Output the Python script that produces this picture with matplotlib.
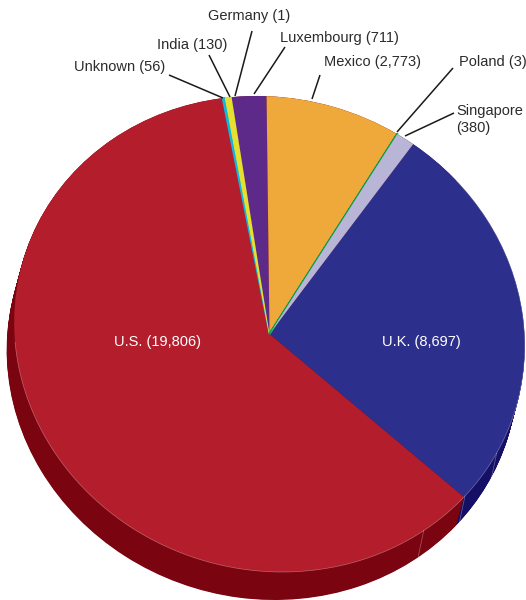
import matplotlib
matplotlib.use("Agg")
import matplotlib.pyplot as plt
import numpy as np
from matplotlib.transforms import Affine2D

# clockwise on screen, starting with the U.K.
countries = ['U.K.', 'U.S.', 'Unknown', 'India', 'Germany', 'Luxembourg', 'Mexico', 'Poland', 'Singapore']
counts = [8697, 19806, 56, 130, 1, 711, 2773, 3, 380]
colors = ['#2C2F8B', '#B41D2B', '#12B5E0', '#E8E02E', '#5E2A8A', '#5E2A8A', '#EFA83A', '#0E9A4A', '#B8B5D6']
side_colors = ['#150F66', '#7A0410', '#7A0410', '#7A0410', '#7A0410', '#7A0410', '#7A0410', '#7A0410', '#7A0410']

plt.rcParams['font.family'] = ['Liberation Sans', 'DejaVu Sans']

# ellipse of the top face, in image pixels
cx, cy = 269.5, 334
a, b = 255, 238
tilt = 0.05
depth_x, depth_y = -7.5, 28
start = -52.9


def face_transform(dx=0, dy=0):
    return Affine2D.from_values(a, 0, a * tilt, b, cx + dx, cy + dy) + ax.transData


def rim(deg, dx=0, dy=0):
    t = np.radians(deg)
    return cx + dx + a * (np.cos(t) + tilt * np.sin(t)), cy + dy + b * np.sin(t)


fig = plt.figure(figsize=(5.26, 6), dpi=100)
ax = fig.add_axes([0, 0, 1, 1])

# side of the disc: the same pie stacked downwards
for f in np.linspace(1, 0, 45):
    wedges, _ = ax.pie(counts, colors=side_colors, startangle=start, counterclock=True,
                       wedgeprops={'linewidth': 0})
    for w in wedges:
        w.set_transform(face_transform(depth_x * f, depth_y * f))

wedges, _ = ax.pie(counts, colors=colors, startangle=start, counterclock=True,
                   wedgeprops={'linewidth': 0})
# these are too thin to show otherwise
edge_widths = {'Poland': 1.5, 'Unknown': 1.2, 'India': 0.8}
for w, name, c in zip(wedges, countries, colors):
    w.set_transform(face_transform())
    if name in edge_widths:
        w.set_edgecolor(c)
        w.set_linewidth(edge_widths[name])

ax.set_xlim(0, 526)
ax.set_ylim(600, 0)
ax.set_aspect('auto')
ax.axis('off')

# pale highlights on the rim and the seams of the side
arc = np.linspace(-40, 178, 300)
rx, ry = rim(arc)
ax.plot(rx, ry, color='white', lw=0.5, alpha=0.35)
for seam in [30, 42.9, 55.7]:
    sx, sy = rim(seam)
    ax.plot([sx, sx + depth_x * 0.75], [sy, sy + depth_y * 0.95], color='white', lw=0.5, alpha=0.35)

label_color = '#2B2B2B'
pointers = [
    ((169, 75), (223, 98)),
    ((209, 55), (230, 97)),
    ((252, 31), (235, 96)),
    ((285, 47), (254, 94)),
    ((320, 75), (312, 99)),
    ((453, 68), (397, 132)),
    ((454, 113), (405, 136)),
]
for p, q in pointers:
    ax.plot([p[0], q[0]], [p[1], q[1]], color='#1A1A1A', lw=1.1, solid_capstyle='butt')

fs = 10.5
ax.text(74, 67, 'Unknown (56)', fontsize=fs, color=label_color, va='center')
ax.text(157, 45, 'India (130)', fontsize=fs, color=label_color, va='center')
ax.text(208, 16, 'Germany (1)', fontsize=fs, color=label_color, va='center')
ax.text(280, 38, 'Luxembourg (711)', fontsize=fs, color=label_color, va='center')
ax.text(324, 62, 'Mexico (2,773)', fontsize=fs, color=label_color, va='center')
ax.text(459, 62, 'Poland (3)', fontsize=fs, color=label_color, va='center')
ax.text(456, 119.5, 'Singapore\n(380)', fontsize=fs, color=label_color, va='center', linespacing=1.25)
ax.text(157, 342, 'U.S. (19,806)', fontsize=fs, color='white', va='center', ha='center')
ax.text(421, 342, 'U.K. (8,697)', fontsize=fs, color='white', va='center', ha='center')

fig.savefig('out.png', dpi=100)
